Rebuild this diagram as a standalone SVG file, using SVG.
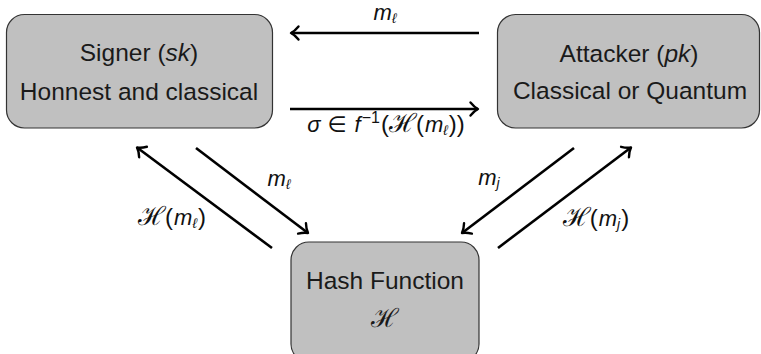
<svg xmlns="http://www.w3.org/2000/svg" width="761" height="354" viewBox="0 0 761 354">
  <style>
    .box { fill: #c0c0c0; stroke: #333333; stroke-width: 1.2; }
    .lbl { font-family: "Liberation Sans", "DejaVu Sans", sans-serif; font-size: 24.5px; fill: #1a1a1a; text-anchor: middle; }
    .math { font-family: "Liberation Sans", "DejaVu Sans", sans-serif; font-size: 22px; fill: #111111; text-anchor: middle; }
    .it { font-style: italic; }
    .sub { font-size: 14px; font-style: italic; }
    .cal { font-family: "DejaVu Serif", serif; font-style: normal; font-size: 26px; }
    .par { font-size: 24px; }
    .conn { stroke: #000000; stroke-width: 2.6; fill: none; marker-end: url(#arr); }
  </style>
  <defs>
    <marker id="arr" markerUnits="userSpaceOnUse" viewBox="-10 -8 12 16" refX="0" refY="0" markerWidth="12" markerHeight="16" orient="auto" overflow="visible">
      <path d="M -7.5 -6.5 C -4.5 -2.8 -1.8 -0.9 0 0 C -1.8 0.9 -4.5 2.8 -7.5 6.5" fill="none" stroke="#000000" stroke-width="2.4" stroke-linecap="round" stroke-linejoin="round"/>
    </marker>
  </defs>

  <g id="signer">
    <rect class="box" x="6.5" y="14.5" width="266" height="113.5" rx="18" ry="18"/>
    <text class="lbl" x="139" y="61">Signer (<tspan class="it">sk</tspan>)</text>
    <text class="lbl" x="139" y="100">Honnest and classical</text>
  </g>

  <g id="attacker">
    <rect class="box" x="497.5" y="14.5" width="262" height="113.5" rx="18" ry="18"/>
    <text class="lbl" x="629" y="62">Attacker (<tspan class="it">pk</tspan>)</text>
    <text class="lbl" x="630" y="99">Classical or Quantum</text>
  </g>

  <g id="hash">
    <rect class="box" x="291" y="242" width="188" height="120" rx="18" ry="18"/>
    <text class="lbl" x="385" y="289">Hash Function</text>
    <text class="lbl cal" x="385" y="327">ℋ</text>
  </g>

  <g id="connectors">
    <line class="conn" x1="479" y1="33" x2="291" y2="33"/>
    <line class="conn" x1="290" y1="109" x2="478" y2="109"/>
    <line class="conn" x1="272" y1="248" x2="137" y2="147.5"/>
    <line class="conn" x1="196" y1="148" x2="308" y2="233"/>
    <line class="conn" x1="574" y1="148" x2="462" y2="233"/>
    <line class="conn" x1="498" y1="248" x2="631" y2="147.5"/>

    <text class="math" x="385" y="20"><tspan class="it">m</tspan><tspan class="sub" dy="3">ℓ</tspan></text>
    <text class="math" x="386" y="132"><tspan class="it">σ</tspan><tspan dx="7">∈</tspan><tspan class="it" dx="8">f</tspan><tspan font-size="16" dy="-9" dx="1">−1</tspan><tspan class="par" dy="9" dx="1">(</tspan><tspan class="cal">ℋ</tspan><tspan class="par" dx="-1">(</tspan><tspan class="it" dx="1">m</tspan><tspan class="sub" dy="3">ℓ</tspan><tspan class="par" dy="-3" dx="1">))</tspan></text>
    <text class="math" x="279" y="186"><tspan class="it">m</tspan><tspan class="sub" dy="3">ℓ</tspan></text>
    <text class="math" x="489" y="185"><tspan class="it">m</tspan><tspan class="sub" dy="3">j</tspan></text>
    <text class="math" x="172" y="225"><tspan class="cal">ℋ</tspan><tspan class="par" dx="-1">(</tspan><tspan class="it" dx="1">m</tspan><tspan class="sub" dy="3">ℓ</tspan><tspan class="par" dy="-3" dx="1">)</tspan></text>
    <text class="math" x="596" y="226"><tspan class="cal">ℋ</tspan><tspan class="par" dx="-1">(</tspan><tspan class="it" dx="1">m</tspan><tspan class="sub" dy="3">j</tspan><tspan class="par" dy="-3" dx="1">)</tspan></text>
  </g>
</svg>
